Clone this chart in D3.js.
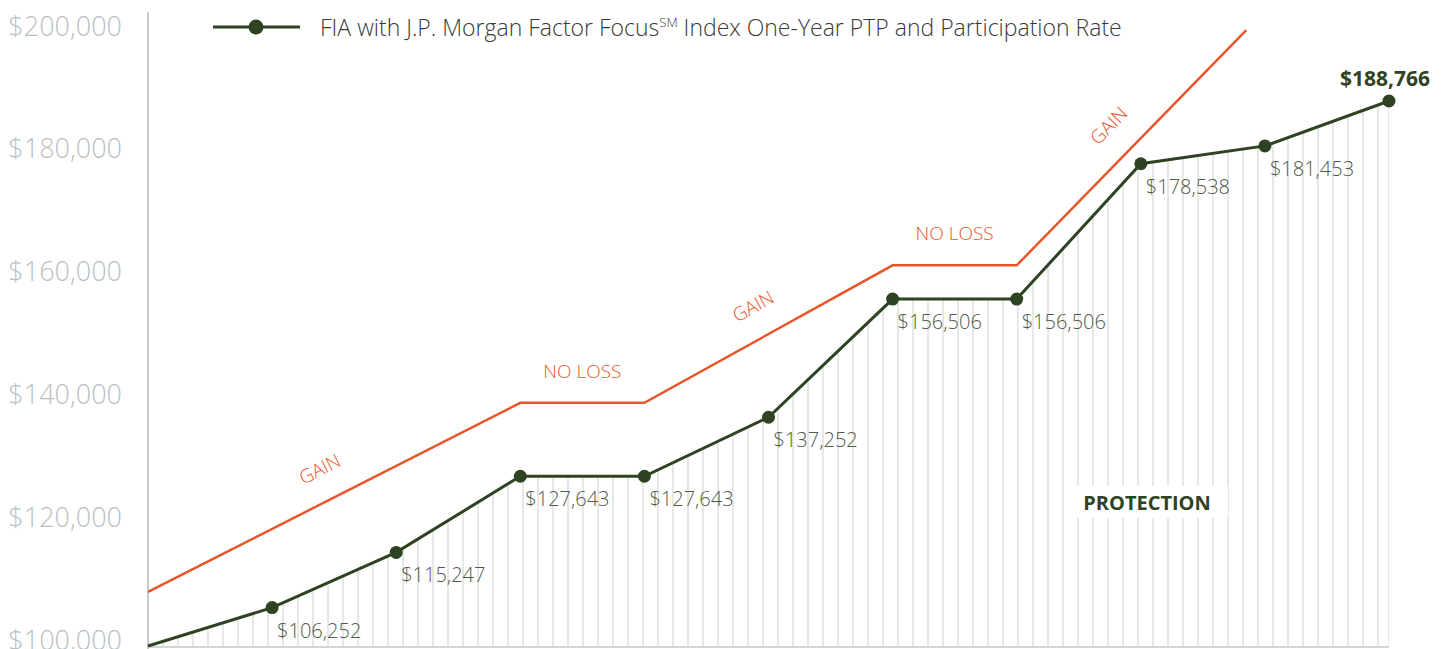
<!DOCTYPE html>
<html>
<head>
<meta charset="utf-8">
<script src="https://cdn.jsdelivr.net/npm/d3@7"></script>
<style>
  body { margin: 0; background: #fff; }
  svg { display: block; font-family: "Open Sans", sans-serif; }
  .tick-label { fill: #b9bfc3; font-size: 27px; font-weight: 300; }
  .val-label { fill: #4f5b47; font-size: 20px; font-weight: 300; }
  .zone-label { fill: #e8562a; font-size: 19px; font-weight: 300; }
</style>
</head>
<body>
<div id="chart"></div>
<script>
var width = 1448, height = 649;

// years 0..10 of the FIA, start premium is $100,000
var years = [0, 1, 2, 3, 4, 5, 6, 7, 8, 9, 10];
var fiaValues = [100000, 106252, 115247, 127643, 127643, 137252, 156506, 156506, 178538, 181453, 188766];
var fiaLabels = ["", "$106,252", "$115,247", "$127,643", "$127,643", "$137,252", "$156,506", "$156,506", "$178,538", "$181,453", "$188,766"];

// the orange gain / no loss line
var indexYears = [0, 3, 4, 6, 7, 8.85];
var indexValues = [108800, 139600, 139600, 162000, 162000, 200300];
var zoneLabels = ["GAIN", "NO LOSS", "GAIN", "NO LOSS", "GAIN"];

var yTicks = [100000, 120000, 140000, 160000, 180000, 200000];
var legendText = "FIA with J.P. Morgan Factor Focus";

var green = "#2e4322", orange = "#e8562a";

var x = d3.scaleLinear()
    .domain([0, 10])
    .range([148, 1389]);

var y = d3.scaleLinear()
    .domain([100000, 200000])
    .range([646, 32]);

var svg = d3.select("#chart").append("svg")
    .attr("width", width)
    .attr("height", height);

var fia = years.map(function(d, i) { return {x: d, v: fiaValues[i], label: fiaLabels[i]}; });
var idx = indexYears.map(function(d, i) { return {x: d, v: indexValues[i]}; });

// hatch under the fia line, clipped by its area
var area = d3.area()
    .x(function(d) { return x(d.x); })
    .y0(y(100000))
    .y1(function(d) { return y(d.v); });

svg.append("clipPath").attr("id", "under")
  .append("path")
    .datum(fia)
    .attr("d", area);

var hatchX = d3.range(x(0), x(10), 15).concat([x(10)]);
svg.append("g")
    .attr("clip-path", "url(#under)")
  .selectAll("line")
  .data(hatchX)
  .enter().append("line")
    .attr("x1", function(d) { return d; })
    .attr("x2", function(d) { return d; })
    .attr("y1", y(200000))
    .attr("y2", y(100000))
    .attr("stroke", "#d6d8d8")
    .attr("stroke-width", 1.2);

// axis line + base line
svg.append("line")
    .attr("x1", x(0)).attr("x2", x(0))
    .attr("y1", 12).attr("y2", height)
    .attr("stroke", "#b3b8bb").attr("stroke-width", 1.5);
svg.append("line")
    .attr("x1", x(0)).attr("x2", x(10))
    .attr("y1", y(100000) + 1).attr("y2", y(100000) + 1)
    .attr("stroke", "#c3c7c9").attr("stroke-width", 1.5);

// y tick labels
svg.append("g")
  .selectAll("text")
  .data(yTicks)
  .enter().append("text")
    .attr("class", "tick-label")
    .attr("x", 122)
    .attr("y", function(d) { return y(d) - 7; })
    .attr("dominant-baseline", "central")
    .attr("text-anchor", "end")
    .text(function(d) { return "$" + d3.format(",")(d); });

// protection label
svg.append("rect")
    .attr("x", 1077).attr("y", 486)
    .attr("width", 151).attr("height", 32)
    .attr("fill", "#fff");
svg.append("text")
    .attr("x", 1147).attr("y", 510)
    .attr("text-anchor", "middle")
    .attr("fill", green)
    .attr("font-size", 20)
    .attr("font-weight", 700)
    .text("PROTECTION");

// orange line
var line = d3.line()
    .x(function(d) { return x(d.x); })
    .y(function(d) { return y(d.v); });

svg.append("path")
    .datum(idx)
    .attr("d", line)
    .attr("fill", "none")
    .attr("stroke", orange)
    .attr("stroke-width", 2.5);

// zone labels sit above the middle of each orange segment
zoneLabels.forEach(function(t, i) {
  var x0 = x(idx[i].x), y0 = y(idx[i].v), x1 = x(idx[i + 1].x), y1 = y(idx[i + 1].v);
  var ang = Math.atan2(y1 - y0, x1 - x0);
  var mx = (x0 + x1) / 2 + Math.sin(ang) * 32, my = (y0 + y1) / 2 - Math.cos(ang) * 32;
  svg.append("text")
      .attr("class", "zone-label")
      .attr("transform", "translate(" + mx + "," + my + ") rotate(" + ang * 180 / Math.PI + ")")
      .attr("text-anchor", "middle")
      .attr("dominant-baseline", "central")
      .text(t);
});

// fia line and dots
svg.append("path")
    .datum(fia)
    .attr("d", line)
    .attr("fill", "none")
    .attr("stroke", green)
    .attr("stroke-width", 3);

svg.selectAll("circle.pt")
  .data(fia.slice(1))
  .enter().append("circle")
    .attr("class", "pt")
    .attr("cx", function(d) { return x(d.x); })
    .attr("cy", function(d) { return y(d.v); })
    .attr("r", 6.5)
    .attr("fill", green);

svg.selectAll("text.val-label")
  .data(fia.slice(1, 10))
  .enter().append("text")
    .attr("class", "val-label")
    .attr("x", function(d) { return x(d.x) + 5; })
    .attr("y", function(d) { return y(d.v) + 30; })
    .text(function(d) { return d.label; });

var last = fia[10];
svg.append("text")
    .attr("x", x(last.x) - 4)
    .attr("y", y(last.v) - 15)
    .attr("text-anchor", "middle")
    .attr("fill", green)
    .attr("font-size", 21)
    .attr("font-weight", 700)
    .text(last.label);

// legend
svg.append("line")
    .attr("x1", 213).attr("x2", 300)
    .attr("y1", 27).attr("y2", 27)
    .attr("stroke", green).attr("stroke-width", 3);
svg.append("circle")
    .attr("cx", 256).attr("cy", 27).attr("r", 7.5)
    .attr("fill", green);
var lt = svg.append("text")
    .attr("x", 320).attr("y", 36)
    .attr("fill", "#3a3a3a")
    .attr("font-size", 23)
    .attr("font-weight", 300);
lt.append("tspan").text(legendText);
lt.append("tspan").attr("font-size", 13).attr("dy", -9).text("SM");
lt.append("tspan").attr("dy", 9).text(" Index One-Year PTP and Participation Rate");
</script>
</body>
</html>
